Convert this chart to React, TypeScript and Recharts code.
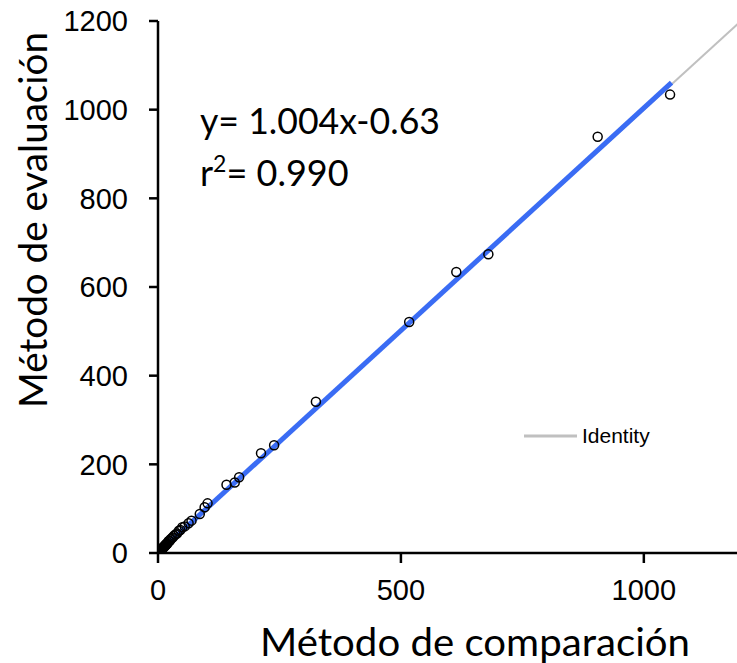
import React from "react";
import {
  ComposedChart,
  XAxis,
  YAxis,
  Line,
  Scatter,
} from "recharts";

// Measured points (Método de comparación vs Método de evaluación)
const comparacion = [
  1054, 905, 680, 614, 517, 325, 239, 212, 167, 158, 141, 102, 96, 86, 69, 63,
  55, 50, 46, 43, 39, 36, 33, 30, 28, 26, 24, 22, 20, 19, 18, 17, 16, 15, 14,
  13, 12, 11, 10, 9.5, 9, 8.5, 8, 7.5, 7, 6.5, 6, 5.5, 5, 4.5, 4, 3.5, 3, 2.5,
  2, 1.5, 1, 0.5, 0.2,
];
const evaluacion = [
  1034, 939, 674, 634, 521, 341, 243, 225, 171, 159, 154, 112, 103, 88, 73, 67,
  60, 58, 52, 50, 44, 42, 39, 35, 33, 31, 27, 27, 24, 21, 21, 19, 19, 16, 17,
  14, 14, 13, 12, 10, 10, 9, 9, 8, 8, 7, 7, 6, 6, 5, 5, 4, 4, 3, 2.5, 2, 1.2,
  0.8, 0.3,
];

// Regression line endpoints (y= 1.004x-0.63)
const regX = [0, 1057];
const regY = [0, 1061];

// Identity line endpoints
const idX = [0, 1200];
const idY = [0, 1200];

const xTicks = [0, 500, 1000];
const yTicks = [0, 200, 400, 600, 800, 1000, 1200];

const points = comparacion.map((x, i) => ({ x, y: evaluacion[i] }));
const regData = regX.map((x, i) => ({ x, y: regY[i] }));
const idData = idX.map((x, i) => ({ x, y: idY[i] }));

const TITLE_FONT = "Lato, 'Open Sans', sans-serif";
const TICK_FONT = "'Liberation Sans', Arial, sans-serif";

const Dot = (props: any) => {
  const { cx, cy } = props;
  if (cx == null || cy == null) return null;
  return (
    <circle cx={cx} cy={cy} r={4.5} fill="none" stroke="#000" strokeWidth={1.5} />
  );
};

export default function App() {
  return (
    <div
      style={{
        position: "absolute",
        left: 0,
        top: 0,
        width: 737,
        height: 663,
        overflow: "hidden",
        background: "#fff",
      }}
    >
      <ComposedChart
        width={760}
        height={663}
        margin={{ top: 21, right: 19, bottom: 0, left: 0 }}
      >
        <XAxis
          type="number"
          dataKey="x"
          domain={[0, 1200]}
          ticks={xTicks}
          allowDataOverflow
          height={110}
          axisLine={{ stroke: "#000", strokeWidth: 2.5 }}
          tickLine={{ stroke: "#000", strokeWidth: 2.5 }}
          tickSize={10}
          tickMargin={16}
          tick={{ fill: "#000", fontSize: 29, fontFamily: TICK_FONT }}
        />
        <YAxis
          type="number"
          dataKey="y"
          domain={[0, 1200]}
          ticks={yTicks}
          allowDataOverflow
          width={158}
          axisLine={{ stroke: "#000", strokeWidth: 2.5 }}
          tickLine={{ stroke: "#000", strokeWidth: 2.5 }}
          tickSize={9}
          tickMargin={21}
          tick={{ fill: "#000", fontSize: 29, fontFamily: TICK_FONT }}
        />
        <Line
          data={idData}
          dataKey="y"
          type="linear"
          stroke="#c0c0c0"
          strokeWidth={2}
          dot={false}
          activeDot={false}
          isAnimationActive={false}
        />
        <Line
          data={regData}
          dataKey="y"
          type="linear"
          stroke="#3a6cf4"
          strokeWidth={5}
          dot={false}
          activeDot={false}
          isAnimationActive={false}
        />
        <Scatter
          data={points}
          dataKey="y"
          shape={Dot}
          isAnimationActive={false}
        />
      </ComposedChart>
      <svg
        width={737}
        height={663}
        style={{ position: "absolute", left: 0, top: 0, pointerEvents: "none" }}
      >
        <text
          x={47}
          y={220}
          transform="rotate(-90 47 220)"
          textAnchor="middle"
          fontFamily={TITLE_FONT}
          fontSize={38}
          textLength={376}
          lengthAdjust="spacingAndGlyphs"
          fill="#000"
        >
          Método de evaluación
        </text>
        <text
          x={475}
          y={656}
          textAnchor="middle"
          fontFamily={TITLE_FONT}
          fontSize={38}
          textLength={430}
          lengthAdjust="spacingAndGlyphs"
          fill="#000"
        >
          Método de comparación
        </text>
        <text
          x={200}
          y={134}
          fontFamily={TITLE_FONT}
          fontSize={36}
          textLength={240}
          lengthAdjust="spacingAndGlyphs"
          fill="#000"
        >
          y= 1.004x-0.63
        </text>
        <text x={200} y={186} fontFamily={TITLE_FONT} fontSize={36} fill="#000">
          r
          <tspan dy={-14} fontSize={23}>2</tspan>
          <tspan dy={14}>= 0.990</tspan>
        </text>
        <line x1={524} y1={436} x2={577} y2={436} stroke="#c0c0c0" strokeWidth={3} />
        <text x={582} y={443} fontFamily={TICK_FONT} fontSize={21} fill="#000">
          Identity
        </text>
      </svg>
    </div>
  );
}
